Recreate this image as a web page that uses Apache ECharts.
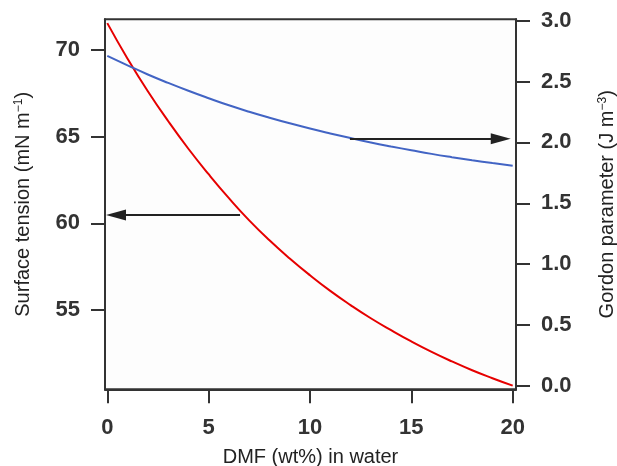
<!DOCTYPE html>
<html>
<head>
<meta charset="utf-8">
<script src="https://cdn.jsdelivr.net/npm/echarts@6/dist/echarts.min.js"></script>
<style>
html,body{margin:0;padding:0;background:#fff;}
#chart{width:617px;height:466px;}
</style>
</head>
<body>
<div id="chart"></div>
<script>
// DMF concentration (wt%) in water
var dmf = [0,1,2,3,4,5,6,7,8,9,10,11,12,13,14,15,16,17,18,19,20];
// Surface tension (mN m-1), left axis, red
var surfaceTension = [71.55,69.5,67.62,65.9,64.3,62.83,61.45,60.17,59.02,57.97,57.0,56.1,55.28,54.52,53.83,53.18,52.58,52.03,51.52,51.06,50.63];
// Gordon parameter (J m-3), right axis, blue
var gordon = [2.71,2.633,2.558,2.489,2.424,2.363,2.305,2.252,2.203,2.157,2.114,2.074,2.036,2.0,1.967,1.936,1.906,1.879,1.854,1.831,1.809];
// tick labels
var xTicks = [0,5,10,15,20];
var leftTicks = [55,60,65,70];
var rightTicks = [0,0.5,1,1.5,2,2.5,3];
// annotation arrows [fromX, toX, yValue]
var leftArrow = [6.55, 0.43, 60.48];
var rightArrow = [11.97, 19.41, 2.03];

function pairs(xs, ys){ return xs.map(function(x,i){ return [x, ys[i]]; }); }

var axisColor = '#333';
var FONT = 'Liberation Sans, Arial, sans-serif';
var labelStyle = {color:'#333', fontSize:22, fontWeight:'bold', fontFamily:FONT};
var nameStyle = {color:'#222', fontSize:20, fontFamily:FONT,
  rich:{sup:{fontSize:12, verticalAlign:'top', lineHeight:12, fontFamily:FONT, color:'#222'}}};

var chart = echarts.init(document.getElementById('chart'), null, {renderer:'canvas'});
chart.setOption({
  animation:false,
  backgroundColor:'#fff',
  grid:{left:105, right:101, top:19.3, bottom:76.7, outerBoundsMode:'none', containLabel:false,
        show:true, borderColor:axisColor, borderWidth:2, backgroundColor:'#fdfdfd'},
  xAxis:{
    type:'value', min:-0.113, max:20.163,
    name:'DMF (wt%) in water', nameLocation:'middle', nameGap:58,
    nameTextStyle:{color:'#222', fontSize:20, fontFamily:FONT},
    axisLine:{show:true, onZero:false, lineStyle:{color:axisColor, width:2}},
    axisTick:{show:true, length:14, customValues:xTicks, lineStyle:{color:axisColor, width:2}},
    axisLabel:{margin:28, customValues:xTicks, formatter:function(v){return String(v);}, ...labelStyle},
    splitLine:{show:false}
  },
  yAxis:[{
    type:'value', position:'left', min:50.42, max:71.77,
    name:'Surface tension (mN m{sup|\u22121})', nameLocation:'middle', nameGap:72, nameRotate:90,
    nameTextStyle:nameStyle,
    axisLine:{show:true, onZero:false, lineStyle:{color:axisColor, width:2}},
    axisTick:{show:true, length:14, customValues:leftTicks, lineStyle:{color:axisColor, width:2}},
    axisLabel:{margin:25, customValues:leftTicks, formatter:function(v){return String(v);}, ...labelStyle},
    splitLine:{show:false}
  },{
    type:'value', position:'right', min:-0.027, max:3.011,
    name:'Gordon parameter (J m{sup|\u22123})', nameLocation:'middle', nameGap:81, nameRotate:90,
    nameTextStyle:nameStyle,
    axisLine:{show:true, onZero:false, lineStyle:{color:axisColor, width:2}},
    axisTick:{show:true, length:14, customValues:rightTicks, lineStyle:{color:axisColor, width:2}},
    axisLabel:{margin:25, customValues:rightTicks, formatter:function(v){return v.toFixed(1);}, ...labelStyle},
    splitLine:{show:false}
  }],
  series:[{
    type:'line', yAxisIndex:0, data:pairs(dmf, surfaceTension), smooth:0.5, showSymbol:false,
    lineStyle:{color:'#e60000', width:2}, itemStyle:{color:'#e60000'},
    markLine:{silent:true, symbol:['none','triangle'], symbolSize:[11,20], label:{show:false},
      lineStyle:{color:'#222', width:2, type:'solid'},
      data:[[{coord:[leftArrow[0], leftArrow[2]]},{coord:[leftArrow[1], leftArrow[2]]}]]}
  },{
    type:'line', yAxisIndex:1, data:pairs(dmf, gordon), smooth:0.5, showSymbol:false,
    lineStyle:{color:'#4264c4', width:2}, itemStyle:{color:'#4264c4'},
    markLine:{silent:true, symbol:['none','triangle'], symbolSize:[11,20], label:{show:false},
      lineStyle:{color:'#222', width:2, type:'solid'},
      data:[[{coord:[rightArrow[0], rightArrow[2]]},{coord:[rightArrow[1], rightArrow[2]]}]]}
  }]
});
</script>
</body>
</html>
